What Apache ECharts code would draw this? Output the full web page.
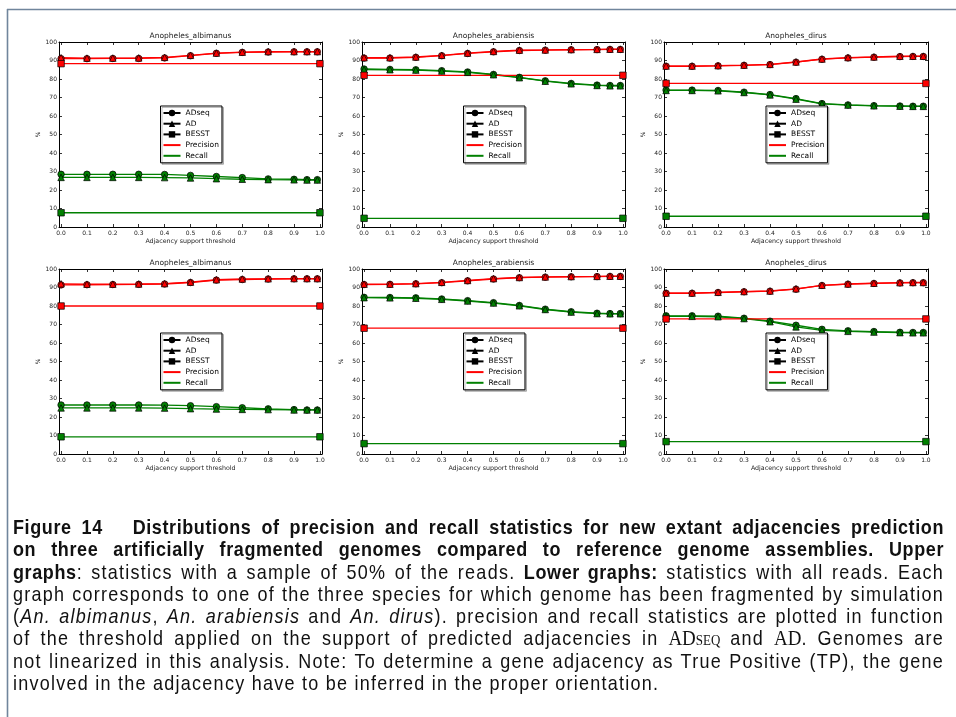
<!DOCTYPE html>
<html>
<head>
<meta charset="utf-8">
<script src="https://cdn.jsdelivr.net/npm/echarts@6/dist/echarts.min.js"></script>
<style>
html,body{margin:0;padding:0;background:#fff;}
#wrap{position:relative;width:956px;height:717px;overflow:hidden;}
#chart{position:absolute;left:0;top:0;width:956px;height:717px;}
#caption{position:absolute;left:13px;top:516px;width:931px;font-family:"Liberation Sans",Arial,sans-serif;font-size:18px;line-height:20.27px;color:#111;transform:scaleY(1.1);transform-origin:0 0;}
#caption .ln{white-space:nowrap;text-align:justify;text-align-last:justify;letter-spacing:1.25px;}
#caption .ln.last{text-align-last:left;}
#caption b{letter-spacing:0.6px;}
#caption .rm{font-family:"Liberation Serif","DejaVu Serif",serif;font-size:19px;letter-spacing:0;}
#caption .sc{font-variant:small-caps;}
</style>
</head>
<body>
<div id="wrap">
<div id="chart"></div>
<div id="caption">
<div class="ln"><b>Figure 14&nbsp;&nbsp; Distributions of precision and recall statistics for new extant adjacencies prediction</b></div>
<div class="ln"><b>on three artificially fragmented genomes compared to reference genome assemblies. Upper</b></div>
<div class="ln"><b>graphs</b>: statistics with a sample of 50% of the reads. <b>Lower graphs:</b> statistics with all reads. Each</div>
<div class="ln">graph corresponds to one of the three species for which genome has been fragmented by simulation</div>
<div class="ln">(<i>An. albimanus</i>, <i>An. arabiensis</i> and <i>An. dirus</i>). precision and recall statistics are plotted in function</div>
<div class="ln">of the threshold applied on the support of predicted adjacencies in <span class="rm">AD<span class="sc">seq</span></span> and <span class="rm">AD</span>. Genomes are</div>
<div class="ln">not linearized in this analysis. Note: To determine a gene adjacency as True Positive (TP), the gene</div>
<div class="ln last">involved in the adjacency have to be inferred in the proper orientation.</div>
</div>
</div>
<script>
// ---------------- data ----------------
const thresholds = [0, 0.1, 0.2, 0.3, 0.4, 0.5, 0.6, 0.7, 0.8, 0.9, 0.95, 0.99];
const besstX = [0, 1];
const xTickValues = [0, 0.1, 0.2, 0.3, 0.4, 0.5, 0.6, 0.7, 0.8, 0.9, 1.0];
const xTickLabels = ['0.0','0.1','0.2','0.3','0.4','0.5','0.6','0.7','0.8','0.9','1.0'];
const panelTitles = ['Anopheles_albimanus','Anopheles_arabiensis','Anopheles_dirus',
                     'Anopheles_albimanus','Anopheles_arabiensis','Anopheles_dirus'];
const legendNames = ['ADseq','AD','BESST','Precision','Recall'];
const xAxisTitle = 'Adjacency support threshold';
const yAxisTitle = '%';

// Upper row: 50% of reads
const albi50PrecADseq = [91.0, 91.0, 91.1, 91.1, 91.4, 92.6, 93.9, 94.4, 94.6, 94.7, 94.7, 94.7];
const albi50PrecAD    = [91.5, 91.3, 91.3, 91.4, 91.7, 92.8, 94.0, 94.5, 94.8, 94.8, 94.8, 94.8];
const albi50PrecBESST = [88.3, 88.3];
const albi50RecADseq  = [28.5, 28.5, 28.5, 28.5, 28.4, 27.9, 27.3, 26.7, 26.0, 25.8, 25.6, 25.6];
const albi50RecAD     = [26.8, 26.8, 26.8, 26.8, 26.7, 26.5, 26.1, 25.8, 25.6, 25.5, 25.4, 25.4];
const albi50RecBESST  = [7.7, 7.7];

const arab50PrecADseq = [91.3, 91.3, 91.7, 92.6, 93.8, 94.7, 95.4, 95.6, 95.8, 95.9, 96.0, 96.0];
const arab50PrecAD    = [91.5, 91.5, 91.9, 92.8, 94.0, 94.9, 95.6, 95.7, 95.9, 96.0, 96.1, 96.1];
const arab50PrecBESST = [82.0, 82.0];
const arab50RecADseq  = [85.4, 85.2, 85.0, 84.5, 83.8, 82.5, 80.9, 79.0, 77.6, 76.7, 76.5, 76.5];
const arab50RecAD     = [85.1, 85.0, 84.8, 84.3, 83.6, 82.3, 80.7, 78.8, 77.4, 76.5, 76.3, 76.3];
const arab50RecBESST  = [4.7, 4.7];

const dirus50PrecADseq = [86.9, 86.9, 87.1, 87.4, 87.8, 89.1, 90.7, 91.4, 91.8, 92.1, 92.2, 92.2];
const dirus50PrecAD    = [87.0, 87.0, 87.2, 87.5, 87.9, 89.2, 90.8, 91.6, 91.9, 92.3, 92.3, 92.3];
const dirus50PrecBESST = [77.6, 77.6];
const dirus50RecADseq  = [74.0, 74.0, 73.8, 72.9, 71.6, 69.4, 66.7, 66.0, 65.6, 65.4, 65.3, 65.3];
const dirus50RecAD     = [73.8, 73.8, 73.6, 72.7, 71.4, 69.1, 66.5, 65.9, 65.5, 65.3, 65.2, 65.2];
const dirus50RecBESST  = [5.8, 5.8];

// Lower row: all reads
const albiAllPrecADseq = [91.4, 91.5, 91.6, 91.7, 91.9, 92.7, 94.0, 94.3, 94.6, 94.7, 94.7, 94.7];
const albiAllPrecAD    = [92.0, 91.8, 91.8, 91.9, 92.1, 92.9, 94.2, 94.6, 94.7, 94.8, 94.8, 94.8];
const albiAllPrecBESST = [80.0, 80.0];
const albiAllRecADseq  = [26.5, 26.5, 26.5, 26.5, 26.4, 26.1, 25.6, 25.0, 24.4, 24.0, 23.8, 23.8];
const albiAllRecAD     = [24.9, 24.9, 24.9, 24.9, 24.8, 24.5, 24.3, 24.1, 24.0, 23.8, 23.8, 23.8];
const albiAllRecBESST  = [9.3, 9.3];

const arabAllPrecADseq = [91.6, 91.7, 92.0, 92.6, 93.6, 94.6, 95.3, 95.6, 95.8, 95.9, 96.0, 96.0];
const arabAllPrecAD    = [91.8, 91.8, 92.1, 92.8, 93.8, 94.8, 95.4, 95.7, 95.9, 96.0, 96.1, 96.1];
const arabAllPrecBESST = [68.0, 68.0];
const arabAllRecADseq  = [84.7, 84.6, 84.4, 83.8, 82.9, 81.8, 80.3, 78.3, 76.9, 76.1, 75.9, 75.9];
const arabAllRecAD     = [84.5, 84.4, 84.2, 83.6, 82.7, 81.6, 80.1, 78.1, 76.7, 75.9, 75.8, 75.8];
const arabAllRecBESST  = [5.6, 5.6];

const dirusAllPrecADseq = [86.9, 86.9, 87.3, 87.7, 88.0, 89.1, 91.1, 91.8, 92.2, 92.5, 92.6, 92.6];
const dirusAllPrecAD    = [87.0, 87.0, 87.4, 87.8, 88.1, 89.3, 91.2, 91.9, 92.3, 92.6, 92.7, 92.7];
const dirusAllPrecBESST = [73.0, 73.0];
const dirusAllRecADseq  = [74.7, 74.7, 74.5, 73.4, 71.8, 69.6, 67.4, 66.6, 66.2, 65.8, 65.7, 65.7];
const dirusAllRecAD     = [74.4, 74.4, 74.2, 73.2, 71.5, 68.7, 66.8, 66.3, 65.9, 65.6, 65.5, 65.5];
const dirusAllRecBESST  = [6.7, 6.7];

const panels = [
  [albi50PrecADseq, albi50PrecAD, albi50PrecBESST, albi50RecADseq, albi50RecAD, albi50RecBESST],
  [arab50PrecADseq, arab50PrecAD, arab50PrecBESST, arab50RecADseq, arab50RecAD, arab50RecBESST],
  [dirus50PrecADseq, dirus50PrecAD, dirus50PrecBESST, dirus50RecADseq, dirus50RecAD, dirus50RecBESST],
  [albiAllPrecADseq, albiAllPrecAD, albiAllPrecBESST, albiAllRecADseq, albiAllRecAD, albiAllRecBESST],
  [arabAllPrecADseq, arabAllPrecAD, arabAllPrecBESST, arabAllRecADseq, arabAllRecAD, arabAllRecBESST],
  [dirusAllPrecADseq, dirusAllPrecAD, dirusAllPrecBESST, dirusAllRecADseq, dirusAllRecAD, dirusAllRecBESST]
];

// ---------------- layout / style ----------------
const cols = [{left: 59, width: 263}, {left: 362, width: 263}, {left: 664, width: 264}];
const rows = [{top: 42, height: 185}, {top: 269, height: 185}];
const RED = '#ff0000', GREEN = '#008000', BLACK = '#000000';
const FONT = 'DejaVu Sans';
const X_MIN = -0.008, X_MAX = 1.008;

const zip = (xs, ys) => xs.map((x, k) => [x, ys[k]]);

const grid = [], xAxis = [], yAxis = [], series = [], legend = [], graphic = [];

const legendData = legendNames.map(n => (n === 'Precision' || n === 'Recall')
  ? {name: n, itemStyle: {opacity: 0, borderWidth: 0}}
  : {name: n});

panels.forEach((p, i) => {
  const c = cols[i % 3], r = rows[Math.floor(i / 3)];
  grid.push({left: c.left, top: r.top, width: c.width, height: r.height});
  const lineAx = {onZero: false, lineStyle: {color: BLACK, width: 1}};
  const tickX = {inside: true, length: 3, customValues: xTickValues, lineStyle: {color: BLACK, width: 0.8}};
  xAxis.push({
    gridIndex: i, type: 'value', min: X_MIN, max: X_MAX, position: 'bottom',
    axisLine: lineAx, axisTick: tickX, splitLine: {show: false},
    axisLabel: {customValues: xTickValues, formatter: v => xTickLabels[xTickValues.findIndex(t => Math.abs(t - v) < 1e-6)] || v.toFixed(1),
      fontSize: 6, margin: 3, color: '#222', fontFamily: FONT},
    name: xAxisTitle, nameLocation: 'middle', nameGap: 11,
    nameTextStyle: {fontSize: 6.3, color: '#222', fontFamily: FONT}
  });
  xAxis.push({
    gridIndex: i, type: 'value', min: X_MIN, max: X_MAX, position: 'top',
    axisLine: lineAx, axisTick: tickX, splitLine: {show: false},
    axisLabel: {show: false}
  });
  const tickY = {inside: true, length: 3, lineStyle: {color: BLACK, width: 0.8}};
  yAxis.push({
    gridIndex: i, type: 'value', min: 0, max: 100, interval: 10, position: 'left',
    axisLine: lineAx, axisTick: tickY, splitLine: {show: false},
    axisLabel: {fontSize: 6, margin: 2, color: '#222', fontFamily: FONT},
    name: yAxisTitle, nameLocation: 'middle', nameGap: 18,
    nameTextStyle: {fontSize: 6, color: '#222', fontFamily: FONT}
  });
  yAxis.push({
    gridIndex: i, type: 'value', min: 0, max: 100, interval: 10, position: 'right',
    axisLine: lineAx, axisTick: tickY, splitLine: {show: false},
    axisLabel: {show: false}
  });
  const xi = 2 * i, yi = 2 * i;
  const mk = (name, xs, ys, color, symbol, size) => ({
    type: 'line', name: name + '_' + i, xAxisIndex: xi, yAxisIndex: yi,
    data: zip(xs, ys), symbol: symbol, symbolSize: size, showSymbol: true,
    lineStyle: {color: color, width: 1.3},
    itemStyle: {color: color, borderColor: BLACK, borderWidth: 0.7},
    emphasis: {disabled: true}, silent: true
  });
  series.push(mk('precADseq', thresholds, p[0], RED, 'circle', 6.5));
  series.push(mk('precAD', thresholds, p[1], RED, 'triangle', 6.5));
  series.push(mk('recADseq', thresholds, p[3], GREEN, 'circle', 6.5));
  series.push(mk('recAD', thresholds, p[4], GREEN, 'triangle', 6.5));
  series.push(mk('precBESST', besstX, p[2], RED, 'rect', 6.5));
  series.push(mk('recBESST', besstX, p[5], GREEN, 'rect', 6.5));

  legend.push({
    data: legendData, orient: 'vertical',
    left: c.left + c.width / 2 - 30, top: r.top + r.height / 2 - 28.5,
    itemWidth: 17, itemHeight: 8, itemGap: 2.7, padding: [3, 3, 3, 2],
    backgroundColor: '#fff', borderColor: BLACK, borderWidth: 1,
    shadowColor: 'rgba(0,0,0,0.25)', shadowOffsetX: 1.5, shadowOffsetY: 1.5, shadowBlur: 0,
    selectedMode: false,
    textStyle: {fontSize: 7.5, fontFamily: FONT, color: '#000', lineHeight: 8}
  });

  graphic.push({
    type: 'text', x: c.left + c.width / 2, y: r.top - 6, silent: true,
    style: {text: panelTitles[i], fontSize: 7.5, fontFamily: FONT, fill: '#222', align: 'center', verticalAlign: 'middle'}
  });
});

// legend proxy series
series.push({type: 'line', name: 'ADseq', xAxisIndex: 0, yAxisIndex: 0, data: [], symbol: 'circle', symbolSize: 6, itemStyle: {color: BLACK}, lineStyle: {color: BLACK, width: 1.3}});
series.push({type: 'line', name: 'AD', xAxisIndex: 0, yAxisIndex: 0, data: [], symbol: 'triangle', symbolSize: 6, itemStyle: {color: BLACK}, lineStyle: {color: BLACK, width: 1.3}});
series.push({type: 'line', name: 'BESST', xAxisIndex: 0, yAxisIndex: 0, data: [], symbol: 'rect', symbolSize: 6, itemStyle: {color: BLACK}, lineStyle: {color: BLACK, width: 1.3}});
series.push({type: 'line', name: 'Precision', xAxisIndex: 0, yAxisIndex: 0, data: [], symbol: 'none', itemStyle: {color: RED}, lineStyle: {color: RED, width: 1.3}});
series.push({type: 'line', name: 'Recall', xAxisIndex: 0, yAxisIndex: 0, data: [], symbol: 'none', itemStyle: {color: GREEN}, lineStyle: {color: GREEN, width: 1.3}});

// page frame
graphic.push({type: 'line', silent: true, shape: {x1: 7, y1: 9.5, x2: 956, y2: 9.5}, style: {stroke: '#70859c', lineWidth: 1.6}});
graphic.push({type: 'line', silent: true, shape: {x1: 7.5, y1: 9, x2: 7.5, y2: 717}, style: {stroke: '#70859c', lineWidth: 1.6}});

const chart = echarts.init(document.getElementById('chart'), null, {renderer: 'canvas'});
chart.setOption({
  animation: false,
  backgroundColor: '#fff',
  grid, xAxis, yAxis, series, legend, graphic
});
</script>
</body>
</html>
